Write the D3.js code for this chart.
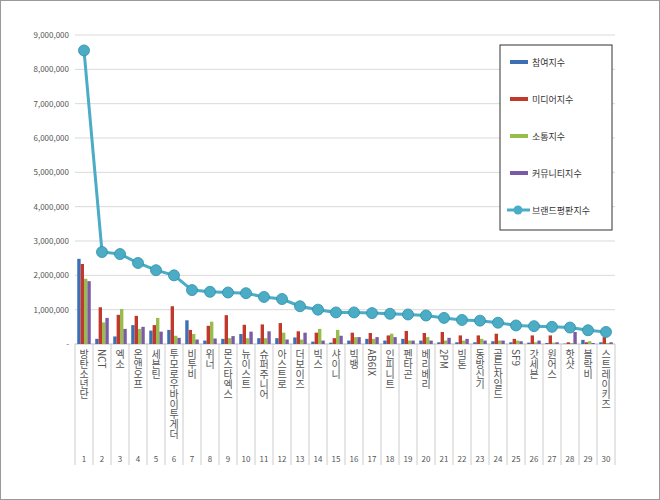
<!DOCTYPE html><html><head><meta charset="utf-8"><script src="https://cdn.jsdelivr.net/npm/d3@7"></script>
<style>body{margin:0;background:#fff}svg{font-family:"Noto Sans CJK KR","Malgun Gothic",sans-serif}</style></head><body><svg id="c" width="660" height="500"></svg>
<script>
const categories=["방탄소년단","NCT","엑소","온앤오프","세븐틴","투모로우바이투게더","비투비","위너","몬스타엑스","뉴이스트","슈퍼주니어","아스트로","더보이즈","빅스","샤이니","빅뱅","AB6IX","인피니트","펜타곤","베리베리","2PM","빅톤","동방신기","골든차일드","SF9","갓세븐","원어스","핫샷","블락비","스트레이키즈"];
const seriesNames=["참여지수","미디어지수","소통지수","커뮤니티지수"];
const participation=[2480000,150000,220000,550000,390000,410000,690000,100000,150000,290000,170000,170000,190000,70000,40000,100000,150000,100000,150000,100000,50000,50000,50000,80000,50000,40000,30000,10000,120000,50000];
const media=[2330000,1070000,850000,820000,550000,1100000,410000,530000,840000,560000,570000,610000,370000,330000,170000,330000,320000,250000,380000,320000,350000,250000,250000,300000,150000,250000,250000,50000,50000,200000];
const communication=[1900000,630000,1020000,440000,760000,240000,290000,650000,170000,170000,170000,330000,130000,440000,410000,200000,150000,300000,100000,200000,100000,100000,150000,100000,100000,50000,40000,30000,80000,30000];
const community=[1830000,760000,440000,500000,360000,180000,130000,160000,230000,360000,370000,130000,330000,100000,240000,200000,200000,200000,100000,100000,180000,150000,100000,100000,80000,100000,50000,350000,30000,50000];
const brandIndex=[8550000,2680000,2620000,2360000,2150000,2000000,1570000,1520000,1500000,1480000,1370000,1310000,1100000,1000000,920000,920000,900000,880000,860000,830000,760000,700000,680000,620000,540000,520000,500000,480000,400000,350000];
const yTicks=[0,1000000,2000000,3000000,4000000,5000000,6000000,7000000,8000000,9000000];
const colors=["#3d6fb5","#c0392b","#98bd4a","#7b5aa6"];
const lineColor="#4bacc6";
const svg=d3.select("#c");
svg.append("rect").attr("x",0.5).attr("y",0.5).attr("width",659).attr("height",499).attr("fill","#fff").attr("stroke","#999");
const L=75,R=615,T=35,B=344;
const x=d3.scaleBand().domain(categories.map((d,i)=>i)).range([L,R]);
const y=d3.scaleLinear().domain([0,9000000]).range([B,T]);
yTicks.forEach(t=>{if(t>0)svg.append("line").attr("x1",L).attr("x2",R).attr("y1",y(t)).attr("y2",y(t)).attr("stroke","#d9d9d9");
 svg.append("text").attr("x",L-6).attr("y",y(t)+3).attr("text-anchor","end").attr("font-size",8).attr("fill","#555").text(t===0?"-":d3.format(",")(t));});
svg.append("line").attr("x1",L).attr("x2",R).attr("y1",B).attr("y2",B).attr("stroke","#bbb");
categories.forEach((c,i)=>{svg.append("line").attr("x1",x(i)).attr("x2",x(i)).attr("y1",B).attr("y2",465).attr("stroke","#ccc");});
svg.append("line").attr("x1",R).attr("x2",R).attr("y1",B).attr("y2",465).attr("stroke","#ccc");
const series=[participation,media,communication,community];
const bw=x.bandwidth()*0.75/4, off=x.bandwidth()*0.125;
series.forEach((s,k)=>{svg.append("g").selectAll("rect").data(s).join("rect")
 .attr("x",(d,i)=>x(i)+off+k*bw).attr("width",bw).attr("y",d=>y(d)).attr("height",d=>B-y(d)).attr("fill",colors[k]);});
const line=d3.line().x((d,i)=>x(i)+x.bandwidth()/2).y(d=>y(d));
svg.append("path").datum(brandIndex).attr("d",line).attr("fill","none").attr("stroke",lineColor).attr("stroke-width",3);
svg.append("g").selectAll("circle").data(brandIndex).join("circle").attr("cx",(d,i)=>x(i)+x.bandwidth()/2).attr("cy",d=>y(d)).attr("r",5.5).attr("fill",lineColor).attr("stroke","#2f8fa8").attr("stroke-width",0.8);
categories.forEach((c,i)=>{const cx=x(i)+x.bandwidth()/2;
 svg.append("text").attr("x",cx).attr("y",349).attr("font-size",10).attr("fill","#555").style("writing-mode","vertical-rl").style("text-orientation","mixed").text(c);
 svg.append("text").attr("x",cx).attr("y",462).attr("text-anchor","middle").attr("font-size",8).attr("fill","#555").text(i+1);});
svg.append("rect").attr("x",500).attr("y",45).attr("width",112).attr("height",185).attr("fill","#fff").attr("stroke","#333");
seriesNames.forEach((n,k)=>{const ly=62+k*37;
 svg.append("rect").attr("x",510).attr("y",ly-2).attr("width",18).attr("height",4).attr("fill",colors[k]);
 svg.append("text").attr("x",532).attr("y",ly+4).attr("font-size",9).attr("fill","#333").text(n);});
const ly=210;
svg.append("line").attr("x1",507).attr("x2",530).attr("y1",ly).attr("y2",ly).attr("stroke",lineColor).attr("stroke-width",3);
svg.append("circle").attr("cx",518).attr("cy",ly).attr("r",4.5).attr("fill",lineColor);
svg.append("text").attr("x",532).attr("y",ly+4).attr("font-size",9).attr("fill","#333").text("브랜드평판지수");
</script></body></html>
